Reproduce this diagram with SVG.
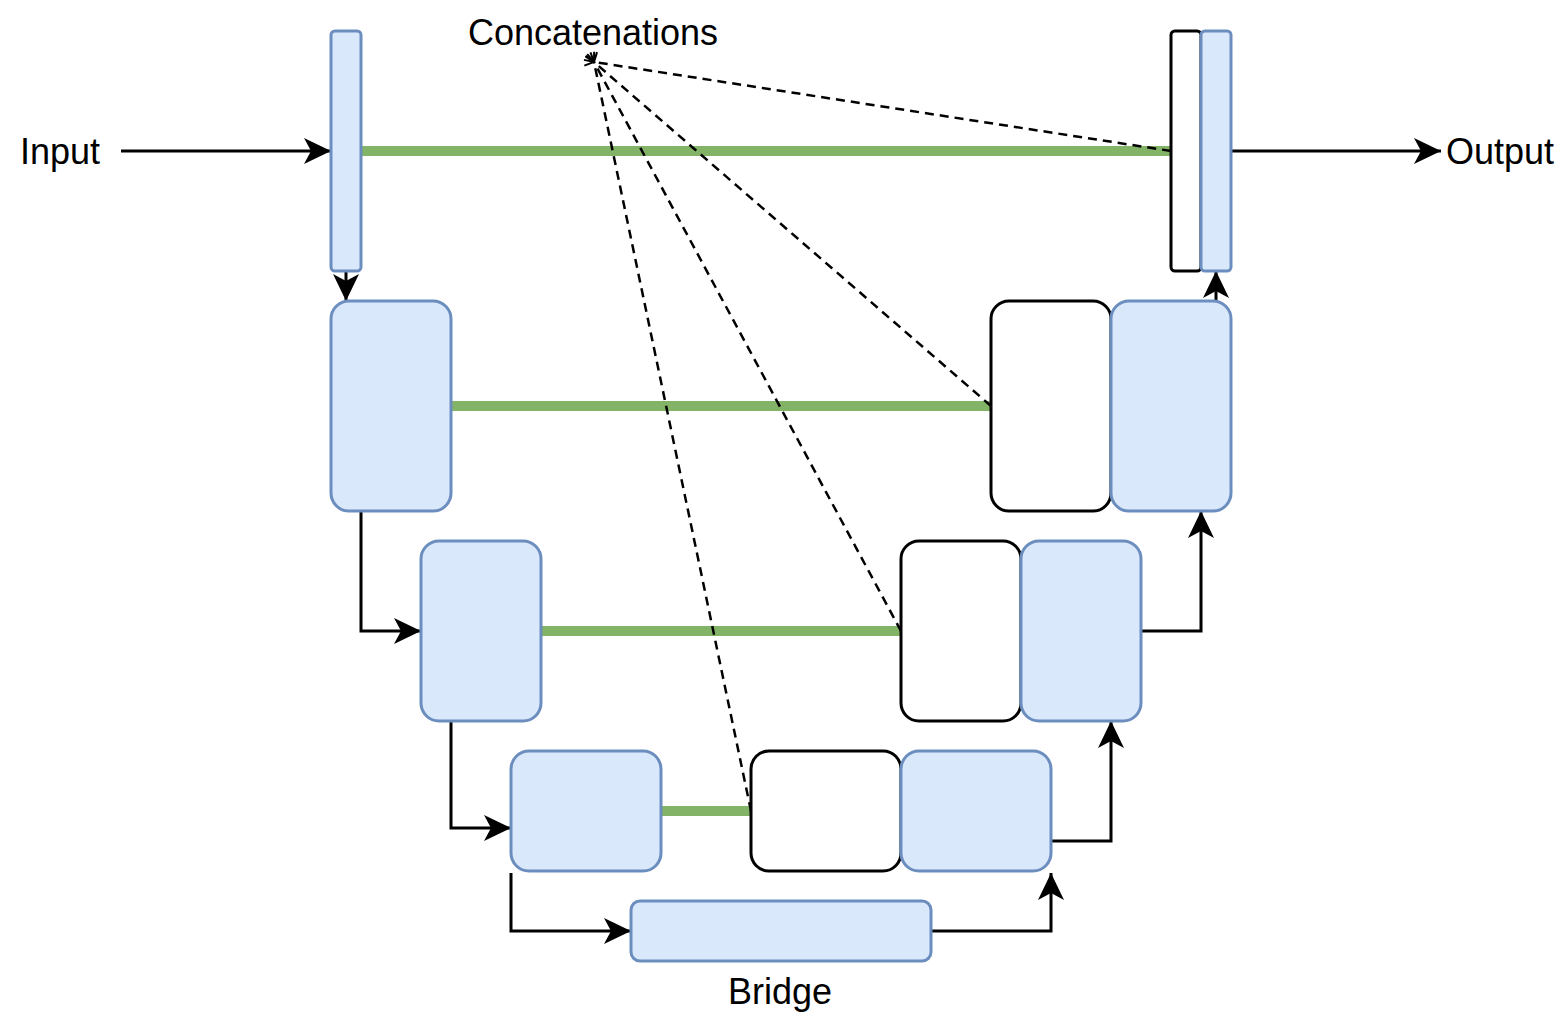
<svg xmlns="http://www.w3.org/2000/svg" width="1563" height="1023" viewBox="0 0 1563 1023">
<defs>
<marker id="arr" viewBox="0 0 28 28" refX="27" refY="14" markerWidth="28" markerHeight="28" markerUnits="userSpaceOnUse" orient="auto">
<path d="M0,1 L27,14 L0,27 L7,14 Z" fill="#000"/>
</marker>
<marker id="open" viewBox="0 0 12 12" refX="1" refY="6" markerWidth="12" markerHeight="12" markerUnits="userSpaceOnUse" orient="auto">
<path d="M10,1 L1,6 L10,11" fill="none" stroke="#000" stroke-width="2"/>
</marker>
</defs>
<style>
.blue{fill:#dae8fc;stroke:#6c8ebf;stroke-width:3}
.white{fill:#fff;stroke:#000;stroke-width:3}
.skip{stroke:#82b366;stroke-width:10;fill:none}
.flow{stroke:#000;stroke-width:3;fill:none;marker-end:url(#arr)}
.dash{stroke:#000;stroke-width:2.5;fill:none;stroke-dasharray:9 6}
text{font-family:"Liberation Sans",Arial,sans-serif;font-size:36px;fill:#000}
</style>
<rect width="1563" height="1023" fill="#fff"/>
<g id="skips">
<line class="skip" x1="361" y1="151" x2="1171" y2="151"/>
<line class="skip" x1="451" y1="406" x2="991" y2="406"/>
<line class="skip" x1="541" y1="631" x2="901" y2="631"/>
<line class="skip" x1="661" y1="811" x2="751" y2="811"/>
</g>
<g id="connectors">
<line class="flow" x1="121" y1="151" x2="331" y2="151"/>
<line class="flow" x1="1231" y1="151" x2="1441" y2="151"/>
<line class="flow" x1="346" y1="271" x2="346" y2="301"/>
<path class="flow" d="M361,511 V631 H421"/>
<path class="flow" d="M451,721 V828 H511"/>
<path class="flow" d="M511,873 V931 H631"/>
<path class="flow" d="M931,931 H1051 V873"/>
<path class="flow" d="M1051,841 H1111 V721"/>
<path class="flow" d="M1141,631 H1201 V511"/>
<line class="flow" x1="1216" y1="301" x2="1216" y2="271"/>
</g>
<g id="enc1"><rect class="blue" x="331" y="31" width="30" height="240" rx="4"/></g>
<g id="enc2"><rect class="blue" x="331" y="301" width="120" height="210" rx="18"/></g>
<g id="enc3"><rect class="blue" x="421" y="541" width="120" height="180" rx="18"/></g>
<g id="enc4"><rect class="blue" x="511" y="751" width="150" height="120" rx="18"/></g>
<g id="bridge"><rect class="blue" x="631" y="901" width="300" height="60" rx="9"/></g>
<g id="dec4"><rect class="white" x="751" y="751" width="150" height="120" rx="18"/><rect class="blue" x="901" y="751" width="150" height="120" rx="18"/></g>
<g id="dec3"><rect class="white" x="901" y="541" width="120" height="180" rx="18"/><rect class="blue" x="1021" y="541" width="120" height="180" rx="18"/></g>
<g id="dec2"><rect class="white" x="991" y="301" width="120" height="210" rx="18"/><rect class="blue" x="1111" y="301" width="120" height="210" rx="18"/></g>
<g id="dec1"><rect class="white" x="1171" y="31" width="30" height="240" rx="4"/><rect class="blue" x="1201" y="31" width="30" height="240" rx="4"/></g>
<g id="concat-lines">
<line class="dash" x1="1171" y1="151" x2="594" y2="62" marker-end="url(#open)"/>
<line class="dash" x1="991" y1="406" x2="594" y2="62" marker-end="url(#open)"/>
<line class="dash" x1="901" y1="631" x2="594" y2="62" marker-end="url(#open)"/>
<line class="dash" x1="751" y1="811" x2="594" y2="62" marker-end="url(#open)"/>
</g>
<g id="labels">
<text x="593" y="45" text-anchor="middle">Concatenations</text>
<text x="60" y="164" text-anchor="middle">Input</text>
<text x="1500" y="164" text-anchor="middle">Output</text>
<text x="780" y="1004" text-anchor="middle">Bridge</text>
</g>
</svg>
